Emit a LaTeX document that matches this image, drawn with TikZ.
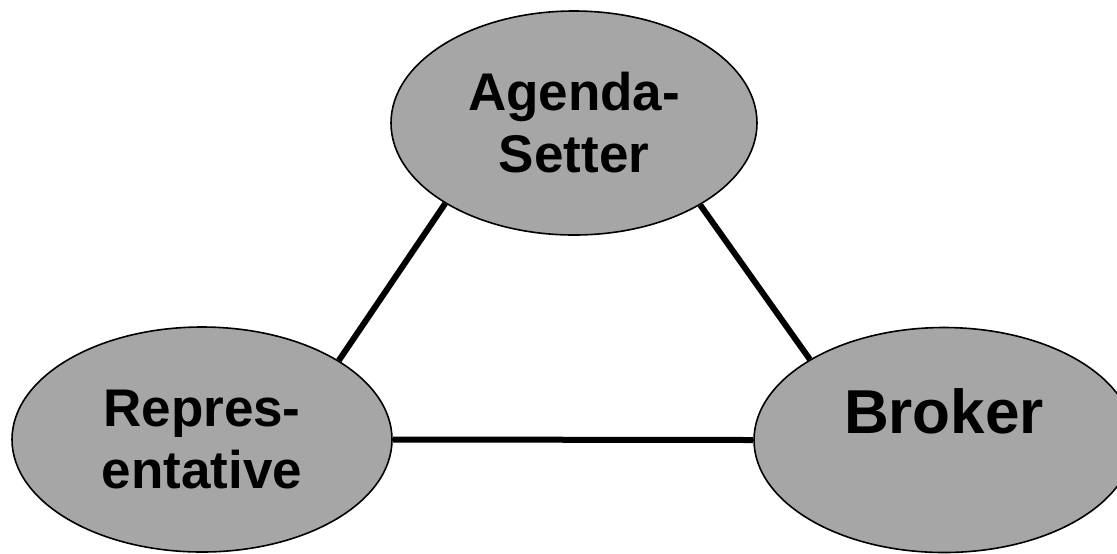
\documentclass[tikz,border=0pt]{standalone}
\usepackage{fontspec}
\setmainfont{Liberation Sans}
\usepackage{xcolor}
\usepackage{tikz}
\usetikzlibrary{shapes.geometric}
\definecolor{rolegray}{RGB}{166,166,166}

\begin{document}
\begin{tikzpicture}[x=0.5pt, y=-0.5pt,
    role/.style={ellipse, draw=black, line width=0.8pt, fill=rolegray, inner sep=0pt,
      align=center, font=\fontsize{26.5}{31}\selectfont\bfseries},
    tie/.style={line width=3pt}]
      \useasboundingbox (0,0) rectangle (1117,553);
      \node[role, minimum width=183pt, minimum height=112pt] (setter) at (574,123)
        {Agenda-\\Setter};
      \node[role, minimum width=190pt, minimum height=112.5pt] (repr) at (202,439.5)
        {Repres-\\entative};
      \node[role, minimum width=190pt, minimum height=112.5pt,
        font=\fontsize{31}{36}\selectfont\bfseries, text depth=29pt] (broker) at (944,440)
        {Broker};
      \draw[tie] (setter.212.4) -- (repr.30.5);
      \draw[tie] (setter.327.4) -- (broker.149.8);
      \draw[tie] (repr.east) -- (broker.west);
    \end{tikzpicture}
\end{document}
